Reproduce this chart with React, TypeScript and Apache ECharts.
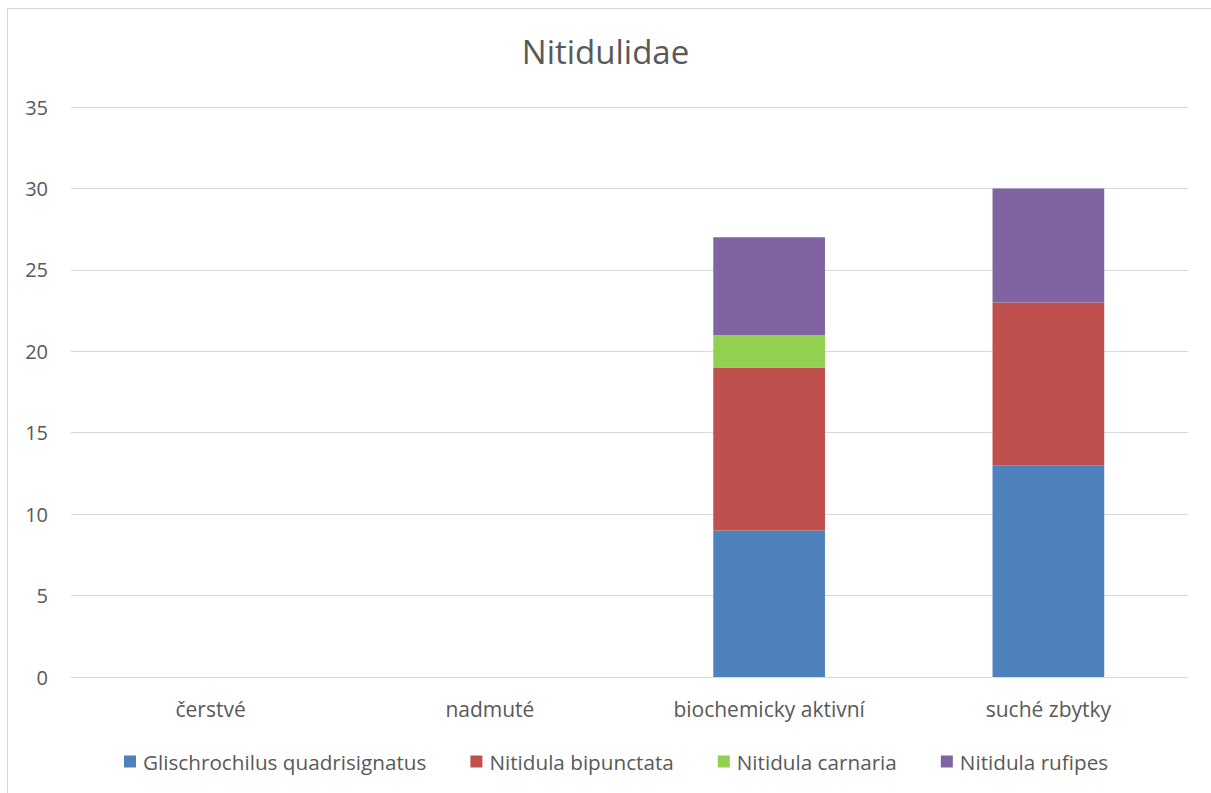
import React, { useEffect, useRef } from "react";
import * as echarts from "echarts";

const categories = ["čerstvé", "nadmuté", "biochemicky aktivní", "suché zbytky"];
const glischrochilus = [0, 0, 9, 13];
const bipunctata = [0, 0, 10, 10];
const carnaria = [0, 0, 2, 0];
const rufipes = [0, 0, 6, 7];
const seriesNames = [
  "Glischrochilus quadrisignatus",
  "Nitidula bipunctata",
  "Nitidula carnaria",
  "Nitidula rufipes",
];
const colors = ["#4f81bd", "#c0504d", "#92d050", "#8064a2"];

const FONT = "'Open Sans', 'Noto Sans', sans-serif";

export default function App() {
  const ref = useRef<HTMLDivElement>(null);
  useEffect(() => {
    document.body.style.margin = "0";
    const chart = echarts.init(ref.current!, null, { renderer: "svg" });
    const values = [glischrochilus, bipunctata, carnaria, rufipes];
    chart.setOption({
      animation: false,
      backgroundColor: "#ffffff",
      textStyle: { fontFamily: FONT },
      title: {
        text: "Nitidulidae",
        left: "center",
        top: 30,
        textStyle: { fontSize: 33, fontWeight: "normal", color: "#595959", fontFamily: FONT },
      },
      graphic: [
        {
          type: "rect",
          shape: { x: 7.5, y: 8.5, width: 1220, height: 800 },
          style: { fill: "none", stroke: "#d9d9d9", lineWidth: 1 },
          silent: true,
        },
      ],
      legend: {
        top: 746,
        left: 119,
        itemWidth: 12,
        itemHeight: 12,
        itemGap: 44,
        icon: "rect",
        textStyle: { fontSize: 20.7, color: "#595959", fontFamily: FONT, padding: [0, 0, 0, 2] },
        data: seriesNames,
      },
      grid: { left: 71, right: 23, top: 107, bottom: 116 },
      xAxis: {
        type: "category",
        data: categories,
        axisLine: { lineStyle: { color: "#d9d9d9" } },
        axisTick: { show: false },
        axisLabel: { fontSize: 21, color: "#595959", margin: 21, fontFamily: FONT },
      },
      yAxis: {
        type: "value",
        min: 0,
        max: 35,
        interval: 5,
        axisLine: { show: false },
        axisTick: { show: false },
        splitLine: { lineStyle: { color: "#d9d9d9", width: 1 } },
        axisLabel: { fontSize: 20, color: "#595959", margin: 23, fontFamily: FONT },
      },
      series: seriesNames.map((name, i) => ({
        name,
        type: "bar",
        stack: "total",
        barWidth: "40%",
        data: values[i],
        itemStyle: { color: colors[i] },
      })),
    });
    return () => chart.dispose();
  }, []);
  return <div ref={ref} style={{ width: 1211, height: 793 }} />;
}
